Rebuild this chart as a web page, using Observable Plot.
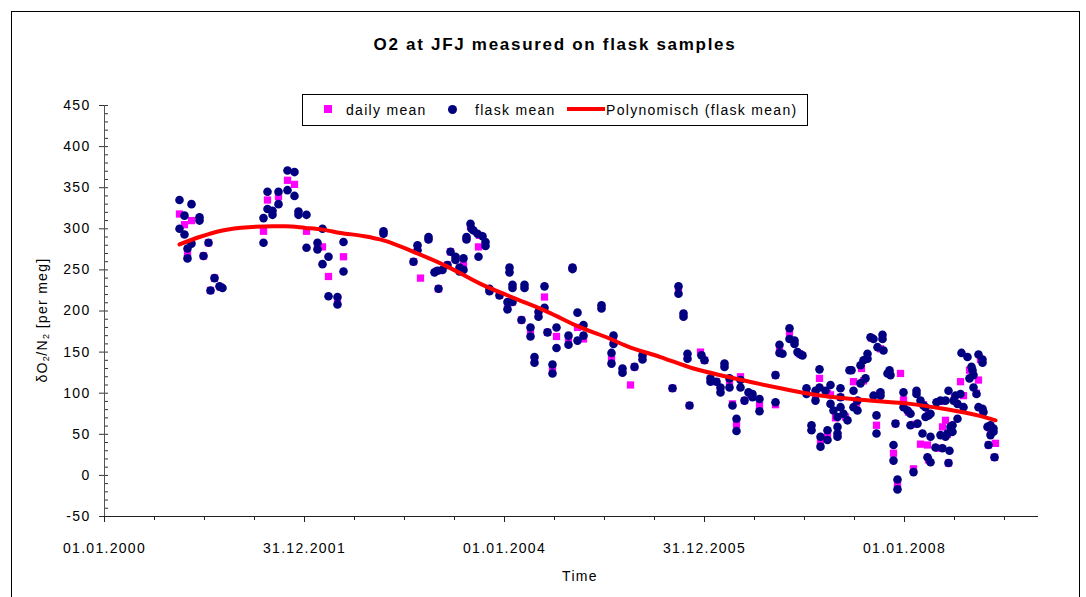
<!DOCTYPE html>
<html>
<head>
<meta charset="utf-8">
<script src="https://cdn.jsdelivr.net/npm/d3@7"></script>
<script src="https://cdn.jsdelivr.net/npm/@observablehq/plot@0.6"></script>
<style>
  body { margin: 0; background: #fff; }
  #wrap { position: relative; width: 1086px; height: 597px; overflow: hidden;
          font-family: "Liberation Sans", Arial, sans-serif; color: #000; }
  #chart { position: absolute; left: 0; top: 0; }
  #frame { position: absolute; left: 11px; top: 11px; width: 1067px; height: 640px;
           border: 1px solid #000; pointer-events: none; z-index: 5; }
  #title { position: absolute; left: 0; width: 1110px; top: 35px; text-align: center;
           font-weight: bold; font-size: 17px; letter-spacing: 1.7px; white-space: nowrap; }
  #legend { position: absolute; left: 302px; top: 94px; width: 504px; height: 30px;
            border: 1px solid #000; background: #fff; z-index: 3; }
  #legend .t { position: absolute; top: 0; line-height: 30px; font-size: 14px;
               letter-spacing: 1.3px; white-space: nowrap; }
  #legend .sq { position: absolute; width: 8px; height: 8px; background: #FF00FF; top: 10px; }
  #legend .ci { position: absolute; width: 9px; height: 9px; border-radius: 50%; background: #000080; top: 10px; }
  #legend .ln { position: absolute; height: 4px; background: #FF0000; top: 12px; }
  #ylab { position: absolute; left: 42px; top: 320px; transform: translate(-50%, -50%) rotate(-90deg);
          font-size: 14px; letter-spacing: 1.3px; white-space: nowrap; }
  #ylab sub { font-size: 9px; vertical-align: -2px; letter-spacing: 0.5px; }
  #xlab { position: absolute; left: 0; width: 1160px; top: 568px; text-align: center;
          font-size: 14px; letter-spacing: 1.3px; }
</style>
</head>
<body>
<div id="wrap">
  <div id="chart"></div>
  <div id="frame"></div>
  <div id="title">O2 at JFJ measured on flask samples</div>
  <div id="legend"></div>
  <div id="ylab">δO<sub>2</sub>/N<sub>2</sub> [per meg]</div>
  <div id="xlab">Time</div>
</div>
<script>
// ---- data (decimal year, δO2/N2 in per meg) ----
const flaskMean = [
  [2000.75,335],[2000.87,330],[2000.80,316],[2000.75,300],[2000.80,293],[2000.95,314],[2000.95,310],[2000.87,282],[2000.83,276],[2000.83,264],[2001.04,283],[2000.99,267],[2001.10,240],[2001.15,230],[2001.18,228],[2001.06,225],
  [2001.59,313],[2001.59,283],[2001.63,345],[2001.63,324],[2001.68,322],[2001.68,317],[2001.74,345],[2001.74,330],[2001.83,371],[2001.90,369],[2001.83,347],[2001.90,340],[2001.94,321],[2001.94,317],[2002.02,317],[2002.02,277],[2002.18,300],[2002.13,283],[2002.13,275],[2002.24,266],[2002.18,257],[2002.24,218],[2002.33,217],[2002.33,208],[2002.39,284],[2002.39,248],
  [2002.79,297],[2002.79,294],[2003.13,280],[2003.13,274],[2003.09,260],[2003.24,290],[2003.24,287],[2003.30,247],[2003.33,249],[2003.38,250],[2003.34,227],[2003.46,272],[2003.51,266],[2003.51,262],[2003.43,256],[2003.55,253],[2003.55,248],[2003.59,264],[2003.59,250],[2003.66,306],[2003.67,300],[2003.69,298],[2003.62,290],[2003.62,287],[2003.73,294],[2003.78,291],[2003.81,284],[2003.81,279],[2003.74,266],[2003.85,227],[2003.85,224],[2003.95,219],
  [2004.05,253],[2004.05,247],[2004.08,232],[2004.08,228],[2004.03,211],[2004.03,202],[2004.08,211],[2004.20,232],[2004.20,228],[2004.40,230],[2004.40,204],[2004.34,199],[2004.34,193],[2004.17,189],[2004.26,180],[2004.26,169],[2004.30,144],[2004.30,137],[2004.43,174],[2004.52,180],[2004.52,155],[2004.48,135],[2004.48,124],[2004.68,253],[2004.68,251],[2004.73,198],[2004.79,183],[2004.79,170],[2004.73,164],[2004.64,170],[2004.64,159],[2004.97,207],[2004.97,203],
  [2005.09,170],[2005.09,160],[2005.07,149],[2005.07,136],[2005.18,130],[2005.18,125],[2005.30,132],[2005.38,146],[2005.38,141],[2005.68,106],[2005.74,230],[2005.74,221],[2005.79,197],[2005.79,193],[2005.83,148],[2005.83,142],[2005.85,85],[2005.97,146],
  [2006.00,140],[2006.20,136],[2006.20,132],[2006.06,118],[2006.06,114],[2006.12,114],[2006.16,107],[2006.16,101],[2006.25,118],[2006.25,107],[2006.36,116],[2006.36,107],[2006.28,85],[2006.40,91],[2006.44,101],[2006.48,99],[2006.48,95],[2006.32,69],[2006.32,54],[2006.55,93],[2006.55,78],[2006.71,122],[2006.71,89],[2006.75,159],[2006.75,149],[2006.78,148],[2006.85,179],[2006.85,166],[2006.90,164],[2006.90,160],[2006.93,150],[2006.96,147],[2006.98,146],
  [2007.02,106],[2007.02,99],[2007.11,103],[2007.11,91],[2007.15,129],[2007.15,107],[2007.21,103],[2007.26,110],[2007.26,87],[2007.29,79],[2007.33,71],[2007.33,59],[2007.07,61],[2007.07,55],[2007.16,47],[2007.16,35],[2007.23,55],[2007.23,43],[2007.33,51],[2007.33,47],[2007.36,106],[2007.36,95],[2007.36,83],[2007.39,75],[2007.43,67],[2007.45,128],[2007.47,128],[2007.56,134],[2007.59,140],[2007.63,148],[2007.63,142],[2007.66,168],[2007.69,166],[2007.78,171],[2007.78,166],[2007.73,156],[2007.79,152],[2007.49,103],[2007.53,91],[2007.49,83],[2007.53,79],[2007.56,112],[2007.61,118],[2007.69,97],[2007.76,101],[2007.76,97],[2007.72,73],[2007.72,51],[2007.85,128],[2007.86,122],[2007.83,124],[2007.91,63],[2007.89,37],[2007.89,18],[2007.93,-5],[2007.93,-17],[2007.99,101],[2007.99,83],
  [2008.03,79],[2008.06,75],[2008.06,61],[2008.13,63],[2008.09,4],[2008.12,103],[2008.12,99],[2008.16,91],[2008.19,85],[2008.21,83],[2008.24,73],[2008.26,75],[2008.21,71],[2008.26,47],[2008.18,51],[2008.23,22],[2008.26,16],[2008.32,89],[2008.36,91],[2008.41,91],[2008.31,34],[2008.38,33],[2008.36,49],[2008.41,47],[2008.43,51],[2008.46,59],[2008.48,53],[2008.44,15],[2008.44,103],[2008.49,91],[2008.51,97],[2008.53,87],[2008.56,99],[2008.59,83],[2008.53,69],[2008.48,61],[2008.45,30],[2008.57,149],[2008.63,144],[2008.67,132],[2008.68,128],[2008.65,118],[2008.69,122],[2008.74,147],[2008.78,141],[2008.78,137],[2008.69,107],[2008.72,99],[2008.74,83],[2008.78,81],[2008.79,77],[2008.86,61],[2008.83,59],[2008.89,53],[2008.86,49],[2008.89,57],[2008.84,37],[2008.90,22]
];

const dailyMean = [
  [2000.75,318],[2000.80,305],[2000.87,310],[2000.83,270],[2000.95,312],[2001.04,283],[2000.99,267],[2001.10,240],[2001.16,229],[2001.06,225],
  [2001.59,297],[2001.63,335],[2001.68,320],[2001.74,339],[2001.83,359],[2001.90,354],[2001.94,319],[2002.02,297],[2002.18,278],[2002.13,279],[2002.24,242],[2002.33,212],[2002.39,266],
  [2002.79,295],[2003.13,277],[2003.09,260],[2003.24,288],[2003.16,240],[2003.33,249],[2003.34,227],[2003.46,272],[2003.51,264],[2003.43,256],[2003.55,250],[2003.59,256],[2003.66,303],[2003.62,288],[2003.74,278],[2003.75,292],[2003.81,281],[2003.85,225],[2003.95,219],
  [2004.05,250],[2004.08,230],[2004.03,206],[2004.08,211],[2004.20,230],[2004.40,217],[2004.34,196],[2004.17,189],[2004.26,174],[2004.30,140],[2004.43,174],[2004.52,169],[2004.48,129],[2004.68,252],[2004.73,180],[2004.79,166],[2004.64,164],[2004.97,205],
  [2005.09,165],[2005.07,142],[2005.18,127],[2005.30,132],[2005.26,110],[2005.38,143],[2005.68,106],[2005.74,225],[2005.79,195],[2005.83,145],[2005.85,85],[2005.96,150],
  [2006.00,140],[2006.20,134],[2006.06,116],[2006.12,114],[2006.16,104],[2006.25,112],[2006.36,120],[2006.28,87],[2006.40,91],[2006.46,98],[2006.32,62],[2006.55,85],[2006.71,86],[2006.71,122],[2006.75,154],[2006.85,172],[2006.90,162],[2006.95,148],
  [2007.02,102],[2007.11,97],[2007.15,118],[2007.23,100],[2007.26,98],[2007.31,70],[2007.07,58],[2007.16,41],[2007.23,49],[2007.33,49],[2007.36,95],[2007.41,71],[2007.46,128],[2007.57,130],[2007.63,145],[2007.67,167],[2007.78,168],[2007.76,154],[2007.49,114],[2007.52,88],[2007.59,115],[2007.72,61],[2007.75,99],[2007.85,124],[2007.96,124],[2007.91,63],[2007.89,27],[2007.93,-10],[2007.99,92],
  [2008.04,77],[2008.09,8],[2008.10,62],[2008.12,101],[2008.19,86],[2008.24,74],[2008.16,38],[2008.23,37],[2008.24,19],[2008.37,90],[2008.34,33],[2008.41,67],[2008.38,59],[2008.43,50],[2008.44,15],[2008.50,95],[2008.59,97],[2008.56,114],[2008.65,128],[2008.74,116],[2008.76,141],[2008.72,100],[2008.78,80],[2008.86,55],[2008.84,37],[2008.91,39],[2008.90,22]
];

const trend = [
  [2000.75,281],[2000.95,290],[2001.18,298],[2001.44,302],[2001.68,303],[2001.81,303],[2002.01,301],[2002.18,299],[2002.36,295],
  [2002.60,291],[2002.79,286],[2003.09,272],[2003.43,254],[2003.76,233],[2004.09,216],[2004.43,199],[2004.76,180],[2005.00,169],[2005.23,157],
  [2005.56,144],[2005.89,130],[2006.23,120],[2006.56,111],[2006.76,106],[2007.06,99],[2007.56,92],[2008.06,87],[2008.39,81],[2008.73,73],[2008.91,67]
];

const xDomain = [2000, 2009.34];
const xTickYears = [2000, 2002, 2004, 2006, 2008];
const xTickLabels = ["01.01.2000", "31.12.2001", "01.01.2004", "31.12.2005", "01.01.2008"];
const xMinorTicks = d3.range(2000, 2009.01, 0.5);
const yDomain = [-50, 450];
const yTicks = d3.range(-50, 451, 50);
const yMinorTicks = d3.range(-50, 451, 10);

const legendItems = [
  {label: "daily mean", kind: "square"},
  {label: "flask mean", kind: "circle"},
  {label: "Polynomisch (flask mean)", kind: "line"}
];

// ---- chart ----
const chart = Plot.plot({
  width: 1086,
  height: 597,
  marginLeft: 104,
  marginRight: 48,
  marginTop: 105,
  marginBottom: 81,
  style: "font-family: 'Liberation Sans', Arial, sans-serif; font-size: 14px; letter-spacing: 1.3px; background: transparent; color: #000;",
  x: {type: "linear", domain: xDomain},
  y: {type: "linear", domain: yDomain},
  marks: [
    Plot.axisY({ticks: yMinorTicks, tickSize: 4, dx: 4, tickFormat: () => "", label: null, stroke: "#333"}),
    Plot.axisY({ticks: yTicks, tickSize: 5, tickPadding: 9, tickFormat: d => String(d), label: null, stroke: "#333"}),
    Plot.axisX({ticks: xMinorTicks, tickSize: 4, tickFormat: () => "", label: null, stroke: "#222"}),
    Plot.axisX({ticks: xTickYears, tickSize: 6, tickPadding: 21,
                tickFormat: d => xTickLabels[xTickYears.indexOf(d)], label: null, stroke: "#222"}),
    Plot.ruleX([xDomain[0]], {stroke: "#555"}),
    Plot.ruleY([yDomain[0]], {stroke: "#222"}),
    Plot.dot(dailyMean, {x: d => d[0], y: d => d[1], symbol: "square", r: 4.1, fill: "#FF00FF"}),
    Plot.dot(flaskMean, {x: d => d[0], y: d => d[1], symbol: "circle", r: 4.3, fill: "#000080"}),
    Plot.line(trend, {x: d => d[0], y: d => d[1], stroke: "#FF0000", strokeWidth: 4, curve: "monotone-x"})
  ]
});
document.getElementById("chart").appendChild(chart);

// ---- legend ----
const legend = document.getElementById("legend");
const pos = {square: [21, 43], circle: [145, 172], line: [264, 303]};
legendItems.forEach(item => {
  const [mx, tx] = pos[item.kind];
  const m = document.createElement("div");
  if (item.kind === "square") { m.className = "sq"; m.style.left = mx + "px"; }
  else if (item.kind === "circle") { m.className = "ci"; m.style.left = mx + "px"; }
  else { m.className = "ln"; m.style.left = mx + "px"; m.style.width = "38px"; }
  legend.appendChild(m);
  const t = document.createElement("div");
  t.className = "t";
  t.style.left = tx + "px";
  t.textContent = item.label;
  legend.appendChild(t);
});
</script>
</body>
</html>
